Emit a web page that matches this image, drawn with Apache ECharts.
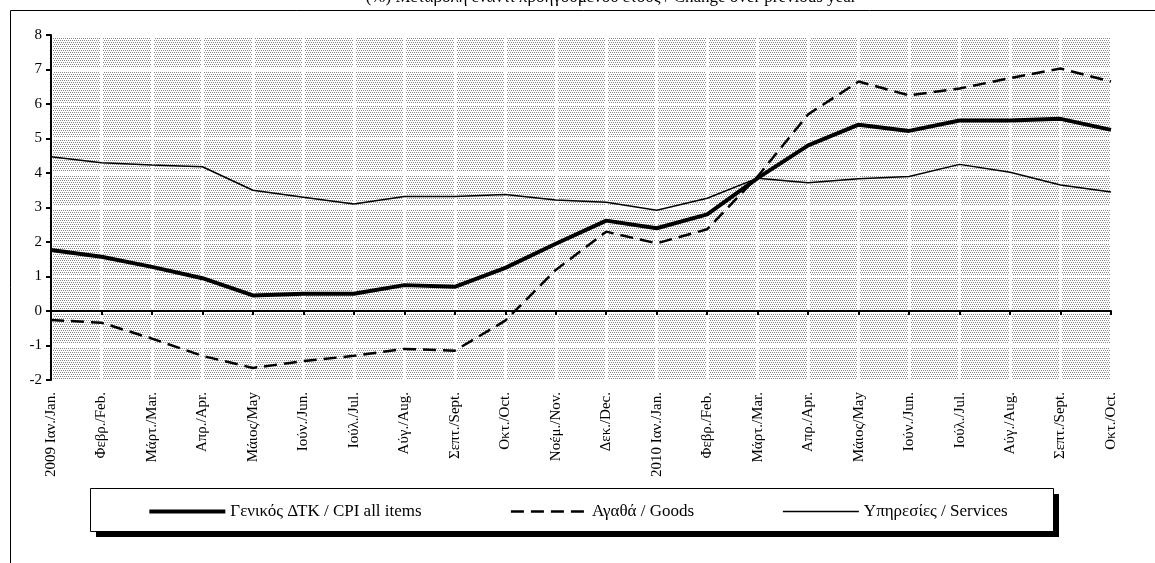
<!DOCTYPE html>
<html>
<head>
<meta charset="utf-8">
<script src="https://cdn.jsdelivr.net/npm/echarts@6/dist/echarts.min.js"></script>
<style>
html,body{margin:0;padding:0;background:#fff;}
#chart{width:1155px;height:563px;}
</style>
</head>
<body>
<div id="chart"></div>
<script>
var categories = ['2009 Ιαν./Jan.','Φεβρ./Feb.','Μάρτ./Mar.','Απρ./Apr.','Μάιος/May','Ιούν./Jun.','Ιούλ./Jul.','Αύγ./Aug.','Σεπτ./Sept.','Οκτ./Oct.','Νοέμ./Nov.','Δεκ./Dec.','2010 Ιαν./Jan.','Φεβρ./Feb.','Μάρτ./Mar.','Απρ./Apr.','Μάιος/May','Ιούν./Jun.','Ιούλ./Jul.','Αύγ./Aug.','Σεπτ./Sept.','Οκτ./Oct.'];
var cpiAll   = [1.77,1.57,1.28,0.95,0.45,0.50,0.50,0.75,0.70,1.25,1.95,2.62,2.40,2.80,3.85,4.80,5.40,5.22,5.52,5.52,5.57,5.25];
var goods    = [-0.26,-0.34,-0.80,-1.30,-1.65,-1.45,-1.30,-1.10,-1.15,-0.28,1.19,2.30,1.96,2.37,3.90,5.70,6.65,6.25,6.45,6.75,7.03,6.65];
var services = [4.47,4.30,4.23,4.18,3.50,3.30,3.10,3.32,3.32,3.38,3.22,3.15,2.92,3.27,3.85,3.72,3.83,3.90,4.25,4.02,3.65,3.45];
var seriesNames = ['Γενικός ΔΤΚ / CPI all items','Αγαθά / Goods','Υπηρεσίες / Services'];
var yTicks = {min:-2, max:8, interval:1};
var titleText = '(%) Μεταβολή έναντι προηγούμενου έτους / Change over previous year';

var pc = document.createElement('canvas');
pc.width = 4; pc.height = 4;
var pctx = pc.getContext('2d');
pctx.fillStyle = '#ffffff'; pctx.fillRect(0,0,4,4);
pctx.fillStyle = '#888888';
pctx.fillRect(0,0,1,1); pctx.fillRect(2,0,1,1);
pctx.fillRect(1,2,1,1); pctx.fillRect(3,2,1,1);

var font = '"Liberation Serif", "Times New Roman", serif';
var chart = echarts.init(document.getElementById('chart'), null, {renderer:'canvas'});
chart.setOption({
  animation:false,
  backgroundColor:'#fff',
  textStyle:{fontFamily:font, color:'#000'},
  grid:{left:51, right:44, top:35, bottom:183, show:true, borderWidth:0,
        backgroundColor:{image:pc, repeat:'repeat'}},
  graphic:[
    {type:'rect', z:0, shape:{x:10.5, y:10.5, width:1300, height:700}, style:{fill:null, stroke:'#000', lineWidth:1}},
    {type:'text', z:0, style:{text:titleText, x:611, y:6, textAlign:'center', textVerticalAlign:'bottom', font:'17px "Liberation Serif", serif', fill:'#000'}},
    {type:'rect', z:1, shape:{x:96, y:494, width:963, height:43}, style:{fill:'#000'}},
    {type:'rect', z:1, shape:{x:90.5, y:488.5, width:963, height:43}, style:{fill:'#fff', stroke:'#000', lineWidth:1}}
  ],
  legend:{
    z:10,
    left:'center', top:498,
    itemWidth:76, itemHeight:14, itemGap:88,
    itemStyle:{opacity:0},
    textStyle:{fontFamily:font, fontSize:17, color:'#000'},
    data:[
      {name:seriesNames[0], lineStyle:{width:4}},
      {name:seriesNames[1], lineStyle:{width:2.5}},
      {name:seriesNames[2], lineStyle:{width:1.5}}
    ]
  },
  xAxis:[
    {type:'category', data:categories, boundaryGap:false, position:'bottom',
     axisLine:{show:false, onZero:false}, axisTick:{show:false},
     axisLabel:{rotate:90, interval:0, fontFamily:font, fontSize:15, color:'#000', margin:12},
     splitLine:{show:true, interval:0, lineStyle:{color:'#fff', width:3}}},
    {type:'category', data:categories, boundaryGap:false, position:'bottom',
     axisLine:{show:true, onZero:true, lineStyle:{color:'#000', width:2}},
     axisTick:{show:true, interval:0, length:4, lineStyle:{color:'#000', width:2}},
     axisLabel:{show:false}, splitLine:{show:false}}
  ],
  yAxis:{type:'value', min:yTicks.min, max:yTicks.max, interval:yTicks.interval,
     axisLine:{show:true, lineStyle:{color:'#000', width:2}},
     axisTick:{show:true, length:5, lineStyle:{color:'#000', width:2}},
     axisLabel:{fontFamily:font, fontSize:15, color:'#000', margin:9},
     splitLine:{show:true, lineStyle:{color:'#fff', width:3}}},
  series:[
    {name:seriesNames[0], type:'line', data:cpiAll, symbol:'none', xAxisIndex:0, z:5,
     lineStyle:{color:'#000', width:4}, itemStyle:{color:'#000'}},
    {name:seriesNames[1], type:'line', data:goods, symbol:'none', xAxisIndex:0, z:4,
     lineStyle:{color:'#000', width:2.5, type:[13,7]}, itemStyle:{color:'#000'}},
    {name:seriesNames[2], type:'line', data:services, symbol:'none', xAxisIndex:0, z:3,
     lineStyle:{color:'#000', width:1.5}, itemStyle:{color:'#000'}}
  ]
});
</script>
</body>
</html>
